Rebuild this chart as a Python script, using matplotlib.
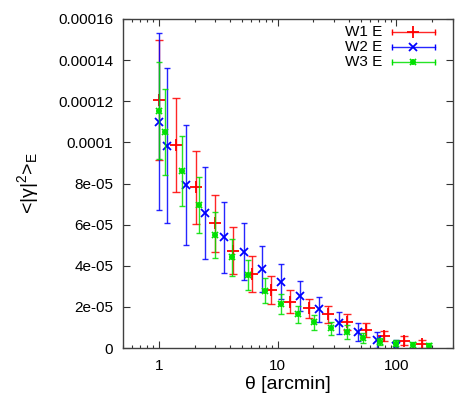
import matplotlib
matplotlib.use("Agg")
import matplotlib.pyplot as plt
import numpy as np

plt.rcParams['font.family'] = ['Liberation Sans', 'DejaVu Sans']
plt.rcParams['mathtext.fontset'] = 'custom'
plt.rcParams['mathtext.rm'] = 'Liberation Sans'
plt.rcParams['mathtext.it'] = 'Liberation Sans:italic'

# W1 E (red)
w1_theta = [1.0, 1.406, 2.04, 2.95, 4.23, 6.10, 8.79, 12.67, 18.3, 26.5, 38.1, 55.4, 79.2, 115, 166]
w1_val = [1.205e-4, 9.87e-5, 7.81e-5, 6.06e-5, 4.73e-5, 3.60e-5, 2.82e-5, 2.25e-5, 1.93e-5,
          1.64e-5, 1.25e-5, 8.75e-6, 5.84e-6, 3.55e-6, 1.95e-6]
w1_err = [2.92e-5, 2.27e-5, 1.77e-5, 1.40e-5, 1.15e-5, 8.8e-6, 6.9e-6, 5.7e-6, 4.7e-6,
          4.2e-6, 3.9e-6, 3.3e-6, 2.6e-6, 2.3e-6, 1.9e-6]

# W2 E (blue)
w2_theta = [1.0, 1.173, 1.70, 2.46, 3.57, 5.18, 7.40, 10.67, 15.44, 22.4, 32.6, 47.3, 68.4, 100]
w2_val = [1.10e-4, 9.84e-5, 7.93e-5, 6.58e-5, 5.38e-5, 4.69e-5, 3.84e-5, 3.22e-5, 2.53e-5,
          1.88e-5, 1.23e-5, 7.6e-6, 3.7e-6, 1.0e-6]
w2_err = [4.3e-5, 3.77e-5, 2.9e-5, 2.24e-5, 1.74e-5, 1.38e-5, 1.1e-5, 8.6e-6, 7.3e-6,
          6.2e-6, 5.4e-6, 4.4e-6, 3.9e-6, 3.0e-6]

# W3 E (green)
w3_theta = [1.0, 1.137, 1.566, 2.17, 2.98, 4.10, 5.59, 7.78, 10.6, 14.8, 20.2, 28.1, 38.2,
            52.6, 72.6, 99.8, 138, 188]
w3_val = [1.154e-4, 1.049e-4, 8.61e-5, 6.95e-5, 5.50e-5, 4.41e-5, 3.55e-5, 2.79e-5, 2.14e-5,
          1.65e-5, 1.25e-5, 9.6e-6, 7.8e-6, 5.0e-6, 3.1e-6, 1.9e-6, 1.5e-6, 1.1e-6]
w3_err = [2.37e-5, 2.1e-5, 1.7e-5, 1.38e-5, 1.12e-5, 9.0e-6, 7.3e-6, 6.0e-6, 4.9e-6,
          4.1e-6, 3.6e-6, 3.2e-6, 3.4e-6, 2.4e-6, 1.7e-6, 2.0e-6, 1.3e-6, 1.1e-6]

yticks = [0, 2e-5, 4e-5, 6e-5, 8e-5, 1e-4, 1.2e-4, 1.4e-4, 1.6e-4]
ytick_labels = ['0', '2e-05', '4e-05', '6e-05', '8e-05', '0.0001', '0.00012', '0.00014', '0.00016']
xticks = [1, 10, 100]
xtick_labels = ['1', '10', '100']

RED = '#ff0000'
BLUE = '#0000ff'
GREEN = '#00e000'

fig = plt.figure(figsize=(4.63, 3.96), dpi=100)
ax = fig.add_axes([123/463, 48/396, 330/463, 329/396])

# markers: list of (marker, size) drawn on top of each other
series = [
    ('W1 E', w1_theta, w1_val, w1_err, RED, [('+', 8)], 3.0),
    ('W2 E', w2_theta, w2_val, w2_err, BLUE, [('x', 6)], 1.9),
    ('W3 E', w3_theta, w3_val, w3_err, GREEN, [('+', 4.5), ('x', 4.0)], 1.9),
]
for name, th, v, e, c, marks, cs in series:
    ax.errorbar(th, v, yerr=e, fmt='none', ecolor=c, elinewidth=1.0, capsize=cs,
                capthick=1.0, alpha=0.85)
    for m, ms in marks:
        ax.plot(th, v, linestyle='none', marker=m, color=c, markersize=ms, markeredgewidth=1.3)

ax.set_xscale('log')
ax.set_xlim(0.5, 300)
ax.set_ylim(0, 1.6e-4)
ax.set_xticks(xticks)
ax.set_xticklabels(xtick_labels)
ax.set_yticks(yticks)
ax.set_yticklabels(ytick_labels)
ax.tick_params(which='both', direction='in', top=True, right=True, labelsize=11, color='#333333')
ax.tick_params(which='major', length=5, width=0.8, pad=8)
ax.tick_params(which='minor', length=2.5, width=0.8)
ax.tick_params(axis='y', pad=7)
for s in ax.spines.values():
    s.set_linewidth(1.0)
    s.set_color('#404040')

ax.set_xlabel('θ [arcmin]', fontsize=14, labelpad=2)
ax.set_ylabel(r'<|γ|$^\mathrm{2}$>$_\mathrm{E}$', fontsize=14, labelpad=12)

# legend (gnuplot style)
rows = [0.9605, 0.915, 0.869]
for (name, th, v, e, c, marks, cs), yy in zip(series, rows):
    ax.text(0.785, yy, name, transform=ax.transAxes, ha='right', va='center', fontsize=11)
    ax.plot([0.815, 0.945], [yy, yy], transform=ax.transAxes, color=c, lw=1.0, alpha=0.85)
    ax.plot([0.815, 0.945], [yy, yy], transform=ax.transAxes, color=c, linestyle='none',
            marker='|', markersize=5, markeredgewidth=1.0)
    for m, ms in marks:
        ax.plot([0.88], [yy], transform=ax.transAxes, color=c, linestyle='none', marker=m,
                markersize=ms, markeredgewidth=1.3)

fig.savefig('out.png', dpi=100)
